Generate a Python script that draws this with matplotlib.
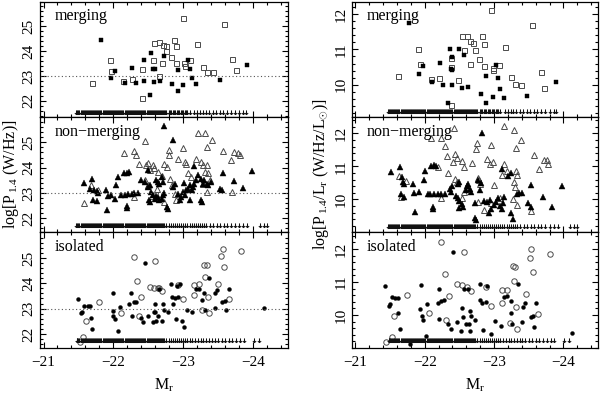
import matplotlib
matplotlib.use("Agg")
import matplotlib.pyplot as plt
from matplotlib.path import Path
from matplotlib.ticker import MultipleLocator

plt.rcParams['font.family'] = ['Liberation Serif', 'DejaVu Serif']
plt.rcParams['mathtext.fontset'] = 'custom'
plt.rcParams['mathtext.rm'] = 'Liberation Serif'
plt.rcParams['mathtext.it'] = 'Liberation Serif:italic'
plt.rcParams['mathtext.bf'] = 'Liberation Serif:bold'
plt.rcParams['font.size'] = 10

# ---------------- data (M_r, value) ----------------
TL_open = [(-21.69,22.72),(-21.95,23.66),(-21.97,23.21),(-22.14,22.79),(-22.27,22.88),(-22.41,23.29),(-22.41,22.12),
           (-22.57,23.64),(-22.58,24.33),(-22.65,24.36),(-22.69,23.51),(-22.65,22.99),(-22.71,24.23),(-22.75,24.19),
           (-22.76,23.99),(-22.82,23.75),(-22.87,24.44),(-22.90,24.19),(-22.90,23.53),(-22.99,25.32),(-23.01,23.51),
           (-23.02,23.40),(-23.10,23.64),(-23.20,24.29),(-23.28,23.37),(-23.34,23.16),(-23.42,23.16),(-23.58,25.11),
           (-23.70,23.68),(-23.75,23.23)]
TL_fill = [(-21.82,24.44),(-22.03,23.19),(-21.97,22.92),(-22.16,22.73),(-22.27,23.34),(-22.33,22.73),(-22.44,23.63),
           (-22.44,22.81),(-22.53,22.23),(-22.54,23.92),(-22.57,23.30),(-22.59,23.30),(-22.58,22.75),(-22.67,22.82),
           (-22.72,23.81),(-22.84,22.66),(-22.92,23.23),(-22.93,22.41),(-23.00,22.62),(-23.07,23.64),(-23.10,23.27),
           (-23.12,22.92),(-23.19,22.66),(-23.52,22.85),(-23.92,23.44)]
TR_open = [(-21.62,10.24),(-21.90,11.00),(-21.93,10.59),(-22.09,10.16),(-22.21,10.18),(-22.38,10.50),(-22.38,9.42),
           (-22.38,10.76),(-22.53,11.38),(-22.61,11.38),(-22.65,11.24),(-22.69,11.19),(-22.57,10.99),(-22.48,10.13),
           (-22.65,10.59),(-22.72,10.97),(-22.78,10.72),(-22.82,11.39),(-22.86,11.14),(-22.86,10.52),(-22.95,12.12),
           (-22.98,10.46),(-22.99,10.41),(-23.07,10.57),(-23.16,11.08),(-23.24,10.22),(-23.30,10.01),(-23.39,9.98),
           (-23.55,11.70),(-23.68,10.35),(-23.72,9.92)]
TR_fill = [(-21.77,11.74),(-21.91,10.31),(-21.98,10.53),(-22.10,10.09),(-22.22,10.61),(-22.27,9.99),(-22.39,10.00),
           (-22.40,10.78),(-22.36,11.02),(-22.38,10.45),(-22.40,10.43),(-22.34,9.49),(-22.53,9.92),(-22.56,10.85),
           (-22.49,11.00),(-22.62,9.93),(-22.81,9.74),(-22.88,10.24),(-22.89,9.49),(-22.98,9.65),(-23.03,10.55),
           (-23.06,10.20),(-23.08,9.87),(-23.15,9.62),(-23.48,9.68),(-23.90,10.08)]

ML_open = [(-21.58,22.60),(-21.68,23.30),(-21.78,23.13),(-22.15,24.58),(-22.29,24.66),(-22.33,24.49),(-22.37,24.16),
           (-22.29,22.84),(-22.46,25.06),(-22.47,24.10),(-22.50,24.20),(-22.52,23.90),(-22.57,24.12),(-22.58,24.00),
           (-22.64,23.83),(-22.69,23.66),(-22.73,24.13),(-22.77,24.03),(-22.80,24.49),(-22.79,24.70),(-22.81,23.57),
           (-22.84,23.30),(-22.72,22.64),(-22.88,22.97),(-22.90,22.74),(-22.92,24.36),(-23.00,24.76),(-23.02,24.23),
           (-23.04,24.14),(-23.07,23.77),(-23.11,23.63),(-23.18,24.36),(-23.21,25.38),(-23.31,25.38),(-23.34,24.82),
           (-23.41,25.09),(-23.25,24.23),(-23.28,24.10),(-23.34,24.12),(-23.36,23.79),(-23.39,23.53),(-23.29,23.37),
           (-23.31,23.83),(-23.34,23.04),(-23.57,24.66),(-23.72,24.62),(-23.78,24.56),(-23.81,24.49),(-23.68,24.29),
           (-23.70,23.04),(-22.50,23.30),(-22.62,23.15),(-22.45,23.50),(-22.55,22.90)]
ML_fill = [(-22.73,25.64),(-22.85,25.09),(-21.58,23.40),(-21.70,23.57),(-21.66,23.17),(-21.72,23.11),(-21.76,23.07),
           (-21.78,23.00),(-21.71,22.74),(-21.76,22.68),(-21.91,22.31),(-21.89,23.11),(-21.92,22.87),(-21.96,22.93),
           (-22.03,22.78),(-22.06,23.63),(-22.04,23.33),(-22.15,23.77),(-22.20,23.79),(-22.23,23.83),(-22.19,22.47),
           (-22.19,22.42),(-22.11,22.91),(-22.16,22.93),(-22.21,22.97),(-22.26,22.97),(-22.30,23.00),(-22.35,23.00),
           (-22.39,23.53),(-22.45,23.44),(-22.49,23.92),(-22.50,23.24),(-22.52,23.30),(-22.54,23.04),(-22.57,22.91),
           (-22.59,22.78),(-22.61,22.87),(-22.64,22.84),(-22.66,22.71),(-22.69,22.78),(-22.71,22.91),(-22.73,23.00),
           (-22.77,22.45),(-22.78,22.38),(-22.61,23.53),(-22.64,23.44),(-22.66,23.37),(-22.69,23.63),(-22.71,23.44),
           (-22.51,22.71),(-22.53,22.64),(-22.85,23.24),(-22.88,23.37),(-22.92,22.97),(-22.95,22.71),(-22.97,22.84),
           (-23.00,23.04),(-23.02,22.91),(-23.04,23.11),(-23.07,23.17),(-23.09,23.30),(-23.01,23.41),(-23.10,22.71),
           (-23.12,23.11),(-23.14,23.24),(-23.16,23.37),(-23.19,23.50),(-23.15,24.06),(-23.21,23.70),(-23.26,23.57),
           (-23.28,23.37),(-23.30,23.50),(-23.34,23.37),(-23.36,23.30),(-23.40,23.44),(-23.25,22.71),(-23.27,22.64),
           (-23.52,23.17),(-23.55,23.11),(-23.57,23.77),(-23.72,23.46),(-23.86,23.21),(-23.99,23.87)]
MR_open = [(-22.42,12.18),(-22.09,11.85),(-22.24,11.85),(-22.29,11.62),(-22.32,11.31),(-22.43,11.39),(-22.47,11.27),
           (-22.41,11.14),(-22.54,11.17),(-22.57,10.99),(-22.33,10.79),(-22.43,10.61),(-22.46,10.54),(-22.75,11.72),
           (-22.74,11.52),(-22.68,11.11),(-22.77,10.64),(-22.78,10.59),(-22.80,10.46),(-22.95,11.65),(-22.90,11.24),
           (-22.99,11.14),(-22.94,11.07),(-22.77,9.93),(-22.86,9.68),(-22.57,10.23),(-22.53,10.03),(-22.24,10.03),
           (-22.19,10.99),(-21.65,10.08),(-21.63,10.71),(-21.73,10.56),(-23.15,12.22),(-23.29,12.12),(-23.39,11.80),
           (-23.31,11.55),(-23.15,11.09),(-23.19,10.86),(-23.11,10.74),(-23.31,10.87),(-23.33,10.74),(-23.29,10.54),
           (-23.30,10.38),(-23.28,10.00),(-23.33,9.83),(-23.57,11.34),(-23.65,10.91),(-23.72,11.21),(-23.76,11.21),
           (-23.78,11.09),(-23.54,9.66),(-23.00,10.43),(-23.08,10.03),(-22.96,9.88)]
MR_fill = [(-22.82,12.02),(-21.51,10.84),(-21.64,10.99),(-21.67,10.69),(-21.68,10.53),(-21.70,10.48),(-21.65,10.18),
           (-21.70,10.08),(-21.83,10.48),(-21.84,10.20),(-21.86,9.63),(-21.91,10.23),(-21.99,10.59),(-22.01,10.87),
           (-22.09,11.00),(-22.14,11.04),(-22.16,11.01),(-22.12,9.76),(-22.12,9.70),(-22.04,10.16),(-22.08,10.16),
           (-22.14,10.16),(-22.19,10.16),(-22.24,10.16),(-22.29,10.16),(-22.36,10.33),(-22.38,10.23),(-22.40,10.40),
           (-22.45,10.10),(-22.48,10.03),(-22.50,9.95),(-22.53,9.85),(-22.55,9.77),(-22.50,9.73),(-22.48,10.48),
           (-22.50,10.54),(-22.62,10.48),(-22.65,10.33),(-22.67,10.23),(-22.72,9.88),(-22.73,9.45),(-22.74,9.39),
           (-22.79,10.30),(-22.81,10.51),(-22.77,10.59),(-22.86,9.96),(-22.90,9.93),(-22.94,9.98),(-22.92,9.60),
           (-22.96,9.70),(-23.00,9.83),(-23.03,9.93),(-23.06,10.03),(-23.08,9.80),(-23.11,9.70),(-23.13,9.90),
           (-23.15,10.08),(-23.12,10.91),(-23.20,10.71),(-23.25,10.79),(-23.24,9.60),(-23.28,9.42),(-23.33,10.18),
           (-23.36,10.20),(-23.41,10.20),(-23.54,10.43),(-23.49,9.88),(-23.54,9.76),(-23.71,10.08),(-23.83,9.76),
           (-23.98,10.40),(-22.59,10.30),(-22.61,10.40)]

BL_open = [(-22.29,25.05),(-22.60,24.88),(-22.34,24.07),(-21.80,23.25),(-21.61,22.53),(-21.57,21.87),(-21.52,21.70),
           (-22.11,22.84),(-22.39,23.45),(-22.36,22.72),(-22.52,23.87),(-22.58,23.83),(-22.64,23.83),(-22.66,23.80),
           (-22.70,23.71),(-22.92,23.93),(-22.99,23.38),(-23.15,23.93),(-23.16,23.54),(-23.22,23.97),(-23.27,22.95),
           (-23.30,24.72),(-23.34,24.72),(-23.31,24.26),(-23.35,23.47),(-23.37,22.84),(-23.50,23.96),(-23.54,25.08),
           (-23.57,25.36),(-23.58,24.66),(-23.66,23.38),(-23.83,25.29)]
BL_fill = [(-21.49,23.38),(-21.53,22.82),(-21.55,22.88),(-21.58,23.11),(-21.63,23.11),(-21.66,23.11),(-21.68,22.62),
           (-21.70,22.18),(-21.99,23.61),(-21.99,22.91),(-22.00,22.71),(-22.03,22.59),(-22.07,22.13),(-22.09,23.08),
           (-22.23,23.17),(-22.25,23.63),(-22.27,22.71),(-22.30,23.25),(-22.33,23.28),(-22.39,22.62),(-22.43,22.49),
           (-22.46,24.79),(-22.50,22.71),(-22.57,22.49),(-22.58,22.88),(-22.60,23.18),(-22.60,22.88),(-22.61,22.53),
           (-22.64,22.71),(-22.66,23.76),(-22.69,22.51),(-22.71,23.18),(-22.72,22.95),(-22.78,22.86),(-22.83,23.97),
           (-22.84,23.47),(-22.86,23.18),(-22.88,23.43),(-22.89,22.59),(-22.91,23.89),(-22.96,23.97),(-22.92,23.47),
           (-22.98,22.53),(-23.01,22.29),(-23.06,22.95),(-23.13,22.86),(-23.19,23.76),(-23.22,23.79),(-23.27,23.34),
           (-23.30,23.63),(-23.31,22.95),(-23.37,24.20),(-23.45,23.04),(-23.45,23.63),(-23.49,23.74),(-23.56,23.28),
           (-23.60,23.32),(-23.61,22.95),(-23.65,23.76),(-24.16,23.01)]
BR_open = [(-22.24,12.20),(-22.57,11.90),(-23.54,12.00),(-23.52,11.73),(-23.81,11.85),(-22.29,11.23),(-21.75,10.62),
           (-22.47,10.93),(-22.54,10.90),(-22.61,10.85),(-22.66,10.73),(-22.88,10.85),(-22.95,10.27),(-23.12,10.77),
           (-23.18,10.77),(-23.12,10.35),(-23.27,11.47),(-23.30,11.45),(-23.29,11.03),(-23.32,10.23),(-23.23,9.77),
           (-23.33,9.58),(-23.46,10.65),(-23.56,11.30),(-23.63,10.02),(-22.06,10.07),(-22.35,10.58),(-22.31,9.85),
           (-21.55,9.98),(-21.53,9.33),(-21.44,9.18)]
BR_fill = [(-22.41,11.90),(-21.43,10.88),(-21.53,10.55),(-21.57,10.52),(-21.61,10.52),(-21.48,10.28),(-21.50,10.32),
           (-21.62,10.05),(-21.64,9.58),(-21.94,10.90),(-21.93,10.19),(-21.96,9.97),(-21.98,9.85),(-22.02,9.35),
           (-22.03,10.33),(-22.20,10.80),(-22.19,10.35),(-22.20,9.88),(-22.24,10.43),(-22.28,10.45),(-22.34,9.73),
           (-22.38,9.58),(-22.46,9.80),(-22.52,9.53),(-22.54,10.20),(-22.55,9.95),(-22.57,10.78),(-22.60,9.73),
           (-22.62,10.78),(-22.64,9.73),(-22.65,10.13),(-22.66,9.98),(-22.65,9.53),(-22.73,9.85),(-22.79,10.93),
           (-22.79,10.45),(-22.83,10.37),(-22.84,9.55),(-22.89,10.38),(-22.90,10.88),(-22.95,9.43),(-23.02,9.83),
           (-23.10,9.68),(-23.14,10.55),(-23.18,10.58),(-23.24,10.07),(-23.25,10.43),(-23.26,9.73),(-23.34,10.95),
           (-23.42,10.25),(-23.44,10.35),(-23.41,9.78),(-23.53,9.95),(-23.56,9.98),(-23.57,9.63),(-23.61,10.35),
           (-24.13,9.45),(-21.79,9.12)]

# upper limits: M_r of undetected galaxies in each subsample
UL_dense = [-21.50,-21.53,-21.56,-21.59,-21.62,-21.65,-21.68,-21.71,-21.74,-21.77,-21.80,-21.83,-21.86,-21.89,
            -21.92,-21.95,-21.98,-22.01,-22.04,-22.07,-22.10,-22.13,-22.16,-22.19,-22.22,-22.25,-22.28,-22.31,
            -22.34,-22.37,-22.40,-22.43,-22.46,-22.49,-22.52,-22.55,-22.58,-22.61,-22.64,-22.67,-22.70,-22.73,
            -22.76,-22.79,-22.82,-22.85,-22.88,-22.91,-22.94,-22.97,-23.00,-23.03,-23.06,-23.09]
UL_fill = [-21.485,-21.515,-21.545,-21.575,-21.605,-21.635,-21.665,-21.695,-21.725,-21.755,-21.785,-21.815,
           -21.845,-21.875,-21.905,-21.935,-21.965,-21.995,-22.025,-22.055,-22.085,-22.115,-22.145,-22.175,
           -22.205,-22.235,-22.265,-22.295,-22.325,-22.355,-22.385,-22.415,-22.445,-22.475,-22.505,-22.535,
           -22.565,-22.595,-22.625,-22.655,-22.685,-22.715]
UL_merging = [-21.47] + UL_dense + UL_fill + [-22.745,-22.805,-22.865,-22.925,-22.985,-23.045,
                                              -23.16,-23.20,-23.24,-23.28,-23.32,-23.37,-23.42,-23.47,-23.52,
                                              -23.57,-23.62,-23.68,-23.74,-23.80,-23.86,-23.90]
UL_nonmerging = [-21.47] + UL_dense + UL_fill + [-23.12,-23.15,-23.18,-23.21,-23.24,
                 -23.27,-23.30,-23.33,-23.38,-23.43,-23.48,-23.53,-23.58,-23.63,-23.68,-23.74,-23.80,-23.86,-23.92,
                 -24.10,-24.15,-24.20]
UL_isolated = [-21.48] + UL_dense + UL_fill + [-23.13,-23.17,-23.21,-23.25,-23.29,-23.33,-23.37,-23.41,-23.45,
                                               -23.50,-23.55,-23.60,-23.65,-23.70,-23.76,-23.82,-23.87,-24.01,-24.08]
UL_level_left = [21.56, 21.72, 21.76]
UL_level_right = [9.27, 9.19, 9.23]

row_labels = ['merging', 'non\u2212merging', 'isolated']
xticks = [-21, -22, -23, -24]
left_yticks = [22, 23, 24, 25]
right_yticks = [10, 11, 12]
left_ylims = [(21.35, 26.0), (21.44, 26.0), (21.45, 26.0)]
right_ylims = [(9.09, 12.35), (9.0, 12.5), (9.0, 12.5)]
detection_line = 23

# ---------------- figure ----------------
fig = plt.figure(figsize=(6.0, 3.96), dpi=100)
arrow = Path([(0, 1), (0, -1), (-0.8, -0.3), (0, -1), (0.8, -0.3)],
             [Path.MOVETO, Path.LINETO, Path.MOVETO, Path.LINETO, Path.LINETO])

bottoms = [0.7045, 0.4129, 0.1212]
h = 0.2917
lefts = [(0.0667, 0.4133), (0.5867, 0.41)]

rows = [
    dict(L=(TL_open, TL_fill), R=(TR_open, TR_fill), ul=UL_merging, mo='s', mf='s', so=3.6, sf=2.6),
    dict(L=(ML_open, ML_fill), R=(MR_open, MR_fill), ul=UL_nonmerging, mo='^', mf='^', so=4.4, sf=4.4),
    dict(L=(BL_open, BL_fill), R=(BR_open, BR_fill), ul=UL_isolated, mo='o', mf='o', so=3.9, sf=2.8),
]

def style(ax, yticks, ylim, bottom_row):
    ax.set_xlim(-20.95, -24.5)
    ax.set_ylim(*ylim)
    ax.set_xticks(xticks)
    ax.xaxis.set_minor_locator(MultipleLocator(0.2))
    ax.set_yticks(yticks)
    ax.yaxis.set_minor_locator(MultipleLocator(0.2))
    ax.tick_params(which='both', direction='in', top=True, right=True, width=0.8, colors='k', labelsize=11)
    ax.tick_params(which='major', length=4)
    ax.tick_params(which='minor', length=2)
    ax.tick_params(axis='y', labelrotation=90, pad=3)
    for lbl in ax.get_yticklabels():
        lbl.set_va('center')
    if bottom_row:
        ax.set_xticklabels(['\u221221', '\u221222', '\u221223', '\u221224'])
        ax.tick_params(axis='x', pad=6)
    else:
        ax.set_xticklabels([])
    for s in ax.spines.values():
        s.set_linewidth(0.9)

for i, r in enumerate(rows):
    for j in range(2):
        ax = fig.add_axes([lefts[j][0], bottoms[i], lefts[j][1], h])
        opn, fil = r['L'] if j == 0 else r['R']
        ax.plot([p[0] for p in opn], [p[1] for p in opn], linestyle='none', marker=r['mo'],
                ms=r['so'], mfc='none', mec='#4a4a4a', mew=0.7)
        ax.plot([p[0] for p in fil], [p[1] for p in fil], linestyle='none', marker=r['mf'],
                ms=r['sf'], mfc='k', mec='k', mew=0.3)
        lev = UL_level_left[i] if j == 0 else UL_level_right[i]
        ax.plot(r['ul'], [lev] * len(r['ul']), linestyle='none', marker=arrow, ms=3,
                mfc='none', mec='#111111', mew=0.75)
        if j == 0:
            ax.axhline(detection_line, color='#555555', lw=0.8, ls=(0, (1, 2.2)))
            style(ax, left_yticks, left_ylims[i], i == 2)
        else:
            style(ax, right_yticks, right_ylims[i], i == 2)
        ax.text(0.06, 0.94, row_labels[i], transform=ax.transAxes, va='top', ha='left', fontsize=11.5)

fig.text(0.018, 0.56, r'log[P$_{\,1.4}$ (W/Hz)]', rotation=90, va='center', ha='center', fontsize=11.5)
fig.text(0.535, 0.56, r'log[P$_{\,1.4}$/L$_{\rm r}$ (W/Hz/L$_{\odot}$)]', rotation=90, va='center',
         ha='center', fontsize=11.5)
fig.text(0.273, 0.028, r'M$_{\rm r}$', ha='center', va='center', fontsize=11.5)
fig.text(0.792, 0.028, r'M$_{\rm r}$', ha='center', va='center', fontsize=11.5)

fig.savefig('out.png', dpi=100)
